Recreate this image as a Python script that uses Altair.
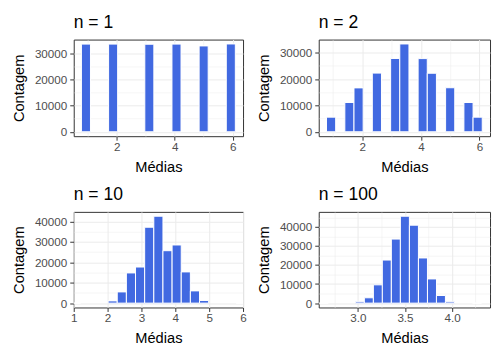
import json
import altair as alt
import pandas as pd

# ---- data (bin centres, counts, bin width) ----
n1_centers = [0.9375, 1.875, 3.125, 4.0625, 5.0, 5.9375]
n1_counts = [33400, 33400, 33350, 33400, 32700, 33450]
n1_width = 0.3125

n2_centers = [0.9375, 1.5625, 1.875, 2.5, 3.125, 3.4375, 4.0625, 4.375, 5.0, 5.625, 5.9375]
n2_counts = [5560, 11100, 16650, 22250, 27800, 33300, 27750, 22200, 16700, 11100, 5550]
n2_width = 0.3125

n10_centers = [1.07, 2.15, 2.42, 2.69, 2.96, 3.23, 3.50, 3.77, 4.04, 4.31, 4.58, 4.85, 5.93]
n10_counts = [0, 1100, 5500, 14800, 17700, 37200, 42600, 25700, 28500, 15300, 6000, 1300, 0]
n10_width = 0.27

n100_centers = [2.637, 3.02, 3.116, 3.212, 3.307, 3.403, 3.499, 3.595, 3.691, 3.787, 3.882, 3.978, 4.265]
n100_counts = [0, 700, 2800, 9600, 22600, 33600, 45600, 40900, 23700, 12700, 4000, 700, 0]
n100_width = 0.0958

titles = ["n = 1", "n = 2", "n = 10", "n = 100"]

FONT = "Liberation Sans"


def make_axis(title, majors, minors, fmt, dom):
    margin = 0.02 * (dom[1] - dom[0])
    vals = sorted([v for v in majors if dom[0] <= v <= dom[1]] +
                  [v for v in minors if dom[0] + margin <= v <= dom[1] - margin])
    test = f"indexof({json.dumps(majors)}, datum.value) >= 0"
    return alt.Axis(
        title=title,
        values=vals,
        format=fmt,
        labelExpr=f"{test} ? datum.label : ''",
        labelFontSize={"condition": {"test": test, "value": 11.7}, "value": 0},
        gridWidth={"condition": {"test": test, "value": 1.0}, "value": 0.5},
        tickColor={"condition": {"test": test, "value": "#333333"}, "value": "transparent"},
    )


def panel(title, centers, counts, bw, xdom, xmaj, xmin, xfmt, ymaj, ymin, w, h):
    df = pd.DataFrame({"c": centers, "n": counts})
    df["lo"] = df["c"] - bw / 2
    df["hi"] = df["c"] + bw / 2
    top = max(counts)
    ydom = [-0.05 * top, 1.05 * top]
    return (
        alt.Chart(df)
        .mark_rect(color="#4169E1", stroke="white", strokeWidth=1, clip=True)
        .encode(
            x=alt.X("lo:Q", scale=alt.Scale(domain=xdom, nice=False, zero=False),
                    axis=make_axis("Médias", xmaj, xmin, xfmt, xdom)),
            x2="hi:Q",
            y=alt.Y("n:Q", scale=alt.Scale(domain=ydom, nice=False, zero=False),
                    axis=make_axis("Contagem", ymaj, ymin, "d", ydom)),
            y2=alt.datum(0),
        )
        .properties(
            width=w, height=h,
            title=alt.Title(title, anchor="start", frame="group", fontSize=17.6,
                            font=FONT, fontWeight="normal", color="black", offset=8),
        )
    )


def ggdom(centers, bw):
    lo = min(centers) - bw / 2
    hi = max(centers) + bw / 2
    r = hi - lo
    return [lo - 0.05 * r, hi + 0.05 * r]


y4 = [0, 10000, 20000, 30000, 40000]
y4m = [5000, 15000, 25000, 35000, 45000]

p1 = panel(titles[0], n1_centers, n1_counts, n1_width, ggdom(n1_centers, n1_width),
           [2, 4, 6], [1, 3, 5], "d", y4, y4m, 170, 97)
p2 = panel(titles[1], n2_centers, n2_counts, n2_width, ggdom(n2_centers, n2_width),
           [2, 4, 6], [1, 3, 5], "d", y4, y4m, 172, 97)
p3 = panel(titles[2], n10_centers, n10_counts, n10_width, [1, 6],
           [1, 2, 3, 4, 5, 6], [1.5, 2.5, 3.5, 4.5, 5.5], "d", y4, y4m, 170, 96)
p4 = panel(titles[3], n100_centers, n100_counts, n100_width, [2.583, 4.404],
           [3.0, 3.5, 4.0], [2.75, 3.25, 3.75, 4.25], ".1f", y4, y4m, 172, 96)

chart = (
    alt.concat(p1, p2, p3, p4, columns=2, spacing={"row": 76, "column": 76},
               bounds="flush", align="each")
    .configure(font=FONT, padding={"left": 3, "top": 4, "right": 5, "bottom": 5})
    .configure_view(stroke="#333333", strokeWidth=1)
    .configure_axis(
        domain=False, grid=True, gridColor="#EBEBEB",
        labelColor="#4D4D4D", labelFont=FONT,
        titleFontSize=14.7, titleColor="black", titleFontWeight="normal", titleFont=FONT,
        tickSize=4, labelPadding=3, labelFlush=False, labelOverlap=False, tickWidth=1,
    )
    .configure_axisY(minExtent=40, maxExtent=40, titlePadding=7)
    .configure_axisX(titlePadding=6, labelPadding=1.5)
)

chart.save("out.html", embed_options={"renderer": "svg", "actions": False})
